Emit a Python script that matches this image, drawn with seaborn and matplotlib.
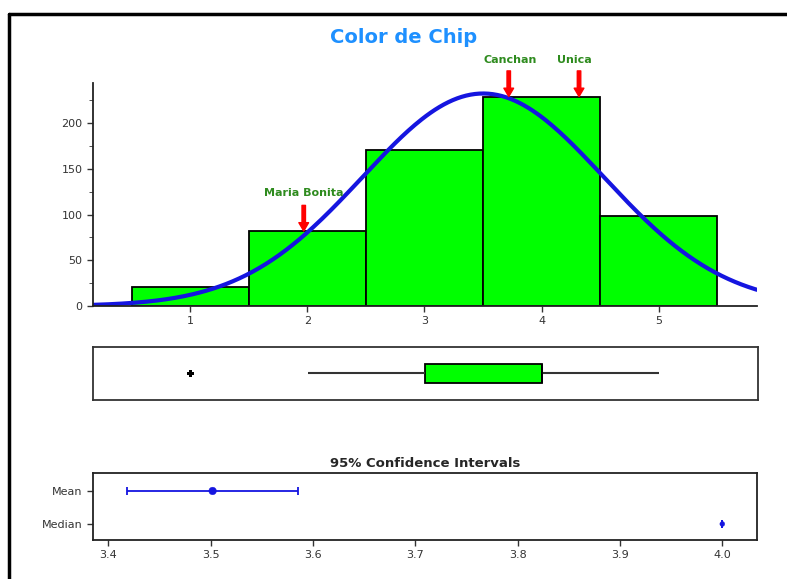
import numpy as np
import pandas as pd
import matplotlib
matplotlib.use("Agg")
import matplotlib.pyplot as plt
import seaborn as sns
from matplotlib.ticker import MultipleLocator

# data
scores = [1, 2, 3, 4, 5]
counts = [21, 82, 170, 229, 98]
bin_edges = [0.5, 1.5, 2.5, 3.5, 4.5, 5.5]

varieties = ["Maria Bonita", "Canchan", "Unica"]
variety_x = [1.97, 3.72, 4.32]

ci_labels = ["Mean", "Median"]
ci_center = [3.502, 4.0]
ci_low = [3.418, 4.0]
ci_high = [3.585, 4.0]
ci_ticks = [3.4, 3.5, 3.6, 3.7, 3.8, 3.9, 4.0]

values = np.repeat(scores, counts)
df = pd.DataFrame({"Color": values})

sns.set_style("ticks")
plt.rcParams['font.family'] = ['Liberation Sans Narrow', 'DejaVu Sans']

fig = plt.figure(figsize=(7.87, 5.79), dpi=100)
ax_hist = fig.add_axes([0.118, 0.4715, 0.844, 0.3855])
ax_box = fig.add_axes([0.118, 0.309, 0.845, 0.092])
ax_ci = fig.add_axes([0.118, 0.0674, 0.844, 0.1157])

# outer frame
fig.add_artist(plt.Line2D([0.0115, 0.0115], [0, 0.976], transform=fig.transFigure, color='black', lw=2.5))
fig.add_artist(plt.Line2D([0.0115, 1.0], [0.976, 0.976], transform=fig.transFigure, color='black', lw=2.5))

fig.text(0.513, 0.935, "Color de Chip", color='#1E90FF', fontsize=14, fontweight='bold', ha='center', va='center')

# histogram + fitted normal
sns.histplot(data=df, x="Color", bins=bin_edges, color='#00FF00', edgecolor='black',
             linewidth=1.3, alpha=1, ax=ax_hist)
mu = values.mean()
sd = values.std(ddof=1)
xs = np.linspace(0.17, 5.84, 300)
ys = len(values) * 1.0 * np.exp(-0.5 * ((xs - mu) / sd) ** 2) / (sd * np.sqrt(2 * np.pi))
sns.lineplot(x=xs, y=ys, color='#1515E0', linewidth=3, ax=ax_hist)
ax_hist.set_xlim(0.17, 5.84)
ax_hist.set_ylim(0, 244)
ax_hist.set_xticks(scores)
ax_hist.set_yticks([0, 50, 100, 150, 200])
ax_hist.yaxis.set_minor_locator(MultipleLocator(25))
ax_hist.set_xlabel("")
ax_hist.set_ylabel("")
ax_hist.tick_params(labelsize=8, length=4, width=1, colors='#333333')
ax_hist.tick_params(which='minor', length=3, colors='#333333')
ax_hist.spines['top'].set_visible(False)
ax_hist.spines['right'].set_visible(False)
for s in ['left', 'bottom']:
    ax_hist.spines[s].set_color('#222222')
    ax_hist.spines[s].set_linewidth(1.3)

label_y = [123.5, 269, 269]
tip_y = [82, 229, 229]
start_y = [110, 257, 257]
text_x = [1.97, 3.73, 4.28]
for name, xv, tx, ly, ty, sy in zip(varieties, variety_x, text_x, label_y, tip_y, start_y):
    ax_hist.text(tx, ly, name, color='#2E8B1E', fontsize=8, fontweight='bold',
                 ha='center', va='center', clip_on=False)
    ax_hist.annotate("", xy=(xv, ty), xytext=(xv, sy), annotation_clip=False,
                     arrowprops=dict(facecolor='red', edgecolor='red', width=2.5,
                                     headwidth=7, headlength=6, shrink=0))

# boxplot
sns.boxplot(data=df, x="Color", ax=ax_box, color='#00FF00', saturation=1, width=0.36,
            linecolor='black', linewidth=1.3, showcaps=False,
            whiskerprops=dict(color='#333333', linewidth=1.5),
            flierprops=dict(marker='+', markersize=5, markeredgewidth=2, markeredgecolor='black'))
ax_box.set_xlim(0.17, 5.84)
ax_box.set_xticks([])
ax_box.set_yticks([])
ax_box.set_xlabel("")
for s in ax_box.spines.values():
    s.set_visible(True)
    s.set_color('#333333')
    s.set_linewidth(1.3)

# confidence intervals
ci_pos = np.arange(len(ci_labels))
err = [np.array(ci_center) - np.array(ci_low), np.array(ci_high) - np.array(ci_center)]
ax_ci.errorbar(ci_center, ci_pos, xerr=err, fmt='none', ecolor='#1515E0', elinewidth=1.3,
               capsize=3, capthick=1.3)
sns.scatterplot(x=ci_center, y=ci_pos, ax=ax_ci, color='#1515E0', s=[30, 12],
                marker='o', edgecolor='#1515E0', legend=False)
ax_ci.set_xlim(3.385, 4.034)
ax_ci.set_ylim(1.485, -0.545)
ax_ci.set_yticks(ci_pos)
ax_ci.set_yticklabels(ci_labels)
ax_ci.set_xticks(ci_ticks)
ax_ci.set_xticklabels([f"{t:.1f}" for t in ci_ticks])
ax_ci.tick_params(labelsize=8, length=4, width=1, colors='#333333')
ax_ci.set_title("95% Confidence Intervals", fontsize=9.5, fontweight='bold', pad=4)
for s in ax_ci.spines.values():
    s.set_visible(True)
    s.set_color('#222222')
    s.set_linewidth(1.3)

fig.savefig("out.png", dpi=100)
